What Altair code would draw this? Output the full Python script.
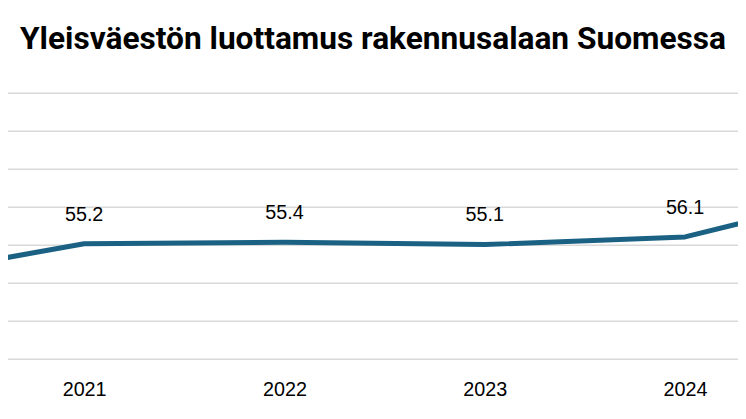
import altair as alt
import pandas as pd

years = [2020, 2021, 2022, 2023, 2024, 2025]
values = [50.5, 55.2, 55.4, 55.1, 56.1, 62.6]
label_years = [2021, 2022, 2023, 2024]
label_values = [55.2, 55.4, 55.1, 56.1]
label_texts = ["55.2", "55.4", "55.1", "56.1"]
tick_years = [2021, 2022, 2023, 2024]
grid_values = [40, 45, 50, 55, 60, 65, 70, 75]
title_text = "Yleisväestön luottamus rakennusalaan Suomessa"

df = pd.DataFrame({"year": years, "value": values})
lab = pd.DataFrame({"year": label_years, "value": label_values, "txt": label_texts})
grid = pd.DataFrame({"g": grid_values})

xscale = alt.Scale(domain=[2020.62, 2024.264], nice=False, zero=False)
yscale = alt.Scale(domain=[40, 75], nice=False, zero=False)

xaxis = alt.Axis(values=tick_years, format="d", grid=False, domain=False, ticks=False,
                 labelFontSize=20, labelFont="Liberation Sans", labelColor="#000000",
                 labelPadding=21, title=None, labelOverlap=False)
yaxis = alt.Axis(values=grid_values, grid=False, labels=False, ticks=False, domain=False,
                 title=None)

gridrules = alt.Chart(grid).mark_rule(color="#d9d9d9", strokeWidth=1.5).encode(
    y=alt.Y("g:Q", scale=yscale, axis=yaxis),
)

line = alt.Chart(df).mark_line(color="#1b6183", strokeWidth=5, clip=True, strokeJoin="round").encode(
    x=alt.X("year:Q", scale=xscale, axis=xaxis),
    y=alt.Y("value:Q", scale=yscale, axis=yaxis),
)

text = alt.Chart(lab).mark_text(dy=-29.5, fontSize=20, font="Liberation Sans", color="#000000",
                                baseline="middle", align="center").encode(
    x=alt.X("year:Q", scale=xscale, axis=xaxis),
    y=alt.Y("value:Q", scale=yscale, axis=yaxis),
    text="txt:N",
)

chart = (gridrules + line + text).properties(
    width=738,
    height=269,
    padding={"left": 0, "right": 0, "top": 84, "bottom": 50},
    autosize=alt.AutoSizeParams(type="none"),
    title=alt.TitleParams(title_text, font="Roboto",
                          fontSize=32, fontWeight="bold", color="#000000", anchor="middle",
                          offset=37, dx=0),
).configure_view(stroke=None)

chart.save("out.html", embed_options={"renderer": "svg", "actions": False})
